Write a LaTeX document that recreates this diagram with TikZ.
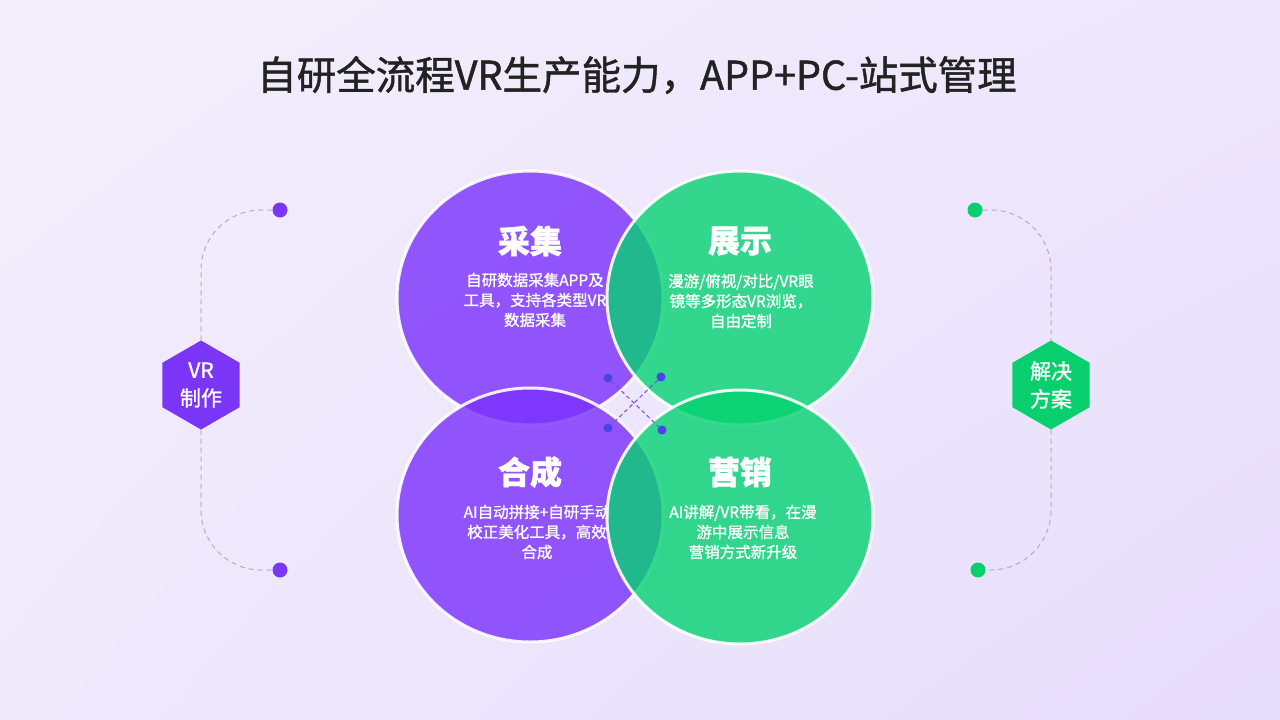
\documentclass[tikz,border=0pt]{standalone}
\usepackage{fontspec}
\setmainfont{Noto Sans CJK SC}
\newfontfamily\medfont{Noto Sans CJK SC}[FakeBold=1.2]
\usepackage{tikz}
\usetikzlibrary{shapes.geometric, positioning, shadings}
\definecolor{mypurple}{HTML}{7A30FC}
\definecolor{mygreen}{HTML}{04D271}
\definecolor{hexpurple}{HTML}{7B35F7}
\definecolor{hexgreen}{HTML}{0ACF6E}
\definecolor{dotblue}{HTML}{4A44E6}
\definecolor{dashpurple}{HTML}{7B45F0}
\definecolor{titlegray}{HTML}{222222}
\definecolor{linegray}{HTML}{B3ABC2}
\definecolor{bgul}{HTML}{F3EEFB}
\definecolor{bgur}{HTML}{EEE6FC}
\definecolor{bgll}{HTML}{EFE9FC}
\definecolor{bglr}{HTML}{E7DDFC}
\tikzset{
	bubble/.style={
			ellipse, minimum width=266pt, minimum height=254pt, inner sep=0pt,
			fill=#1, fill opacity=0.8, draw=white, draw opacity=0.9, line width=3pt
		}
}
\tikzset{
	bubbletitle/.style={font=\medfont\bfseries\fontsize{32}{34}\selectfont, text=white}
}
\tikzset{
	bubbletext/.style={font=\medfont\fontsize{15.5}{20}\selectfont, text=white, align=center}
}
\tikzset{
	hexnode/.style={
			regular polygon, regular polygon sides=6, shape border rotate=30,
			minimum size=89pt, inner sep=0pt, fill=#1, text=white, align=center,
			font=\medfont\fontsize{21}{28}\selectfont
		},
	enddot/.style={circle, minimum size=15pt, inner sep=0pt, fill=#1},
	bluedot/.style={circle, minimum size=9pt, inner sep=0pt, fill=dotblue},
	bracketline/.style={linegray, line width=1pt, dash pattern=on 5pt off 4pt, rounded corners=60pt},
	crossdash/.style={dashpurple, line width=1pt, dash pattern=on 4pt off 3pt}
}

\begin{document}
\begin{tikzpicture}[x=1pt, y=-1pt]

	% background
	\shade[upper left=bgul, upper right=bgur, lower left=bgll, lower right=bglr]
	(0,0) rectangle (1280,720);
	\useasboundingbox (0,0) rectangle (1280,720);

	\node[font=\medfont\fontsize{39.5}{42}\selectfont, text=titlegray] (title) at (637,75)
	{自研全流程VR生产能力，APP+PC-站式管理};

	\begin{scope}
		\coordinate (cA) at (530,298);
		\coordinate (cB) at (740,298);
		\coordinate (cC) at (530,515);
		\coordinate (cD) at (740,517);

		\node[bubble=mypurple] (bA) at (cA) {};
		\node[bubbletitle] (tA) at (530,241) {采集};
		\node[bubbletext] (xA) at (535,300) {自研数据采集APP及\\工具，支持各类型VR\\数据采集};

		\node[bubble=mygreen] (bB) at (cB) {};
		\node[bubbletitle] (tB) at (740,241) {展示};
		\node[bubbletext] (xB) at (741,301) {漫游/俯视/对比/VR眼\\镜等多形态VR浏览，\\自由定制};

		\node[bubble=mypurple] (bC) at (cC) {};
		\node[bubbletitle] (tC) at (530,472) {合成};
		\node[bubbletext] (xC) at (537,532) {AI自动拼接+自研手动\\校正美化工具，高效\\合成};

		\node[bubble=mygreen] (bD) at (cD) {};
		\node[bubbletitle] (tD) at (740,472) {营销};
		\node[bubbletext] (xD) at (743,532) {AI讲解/VR带看，在漫\\游中展示信息\\营销方式新升级};
	\end{scope}

	\begin{scope}
		\node[bluedot] (pA) at (608,378) {};
		\node[bluedot] (pB) at (661,377) {};
		\node[bluedot] (pC) at (608,428) {};
		\node[bluedot] (pD) at (662,430) {};

		\draw[crossdash] (pA) -- (pD);
		\draw[crossdash] (pB) -- (pC);
	\end{scope}

	\begin{scope}
		\node[hexnode=hexpurple] (hexL) at (201,385) {VR\\制作};
		\node[enddot=hexpurple] (eLA) at (280,210) {};
		\node[enddot=hexpurple] (eLB) at (280,570) {};

		\draw[bracketline] (eLA) -| (hexL.90);
		\draw[bracketline] (hexL.-90) |- (eLB);

		\node[hexnode=hexgreen] (hexR) at (1051,385) {解决\\方案};
		\node[enddot=hexgreen] (eRA) at (975,210) {};
		\node[enddot=hexgreen] (eRB) at (978,570) {};

		\draw[bracketline] (eRA) -| (hexR.90);
		\draw[bracketline] (hexR.-90) |- (eRB);
	\end{scope}

\end{tikzpicture}
\end{document}
